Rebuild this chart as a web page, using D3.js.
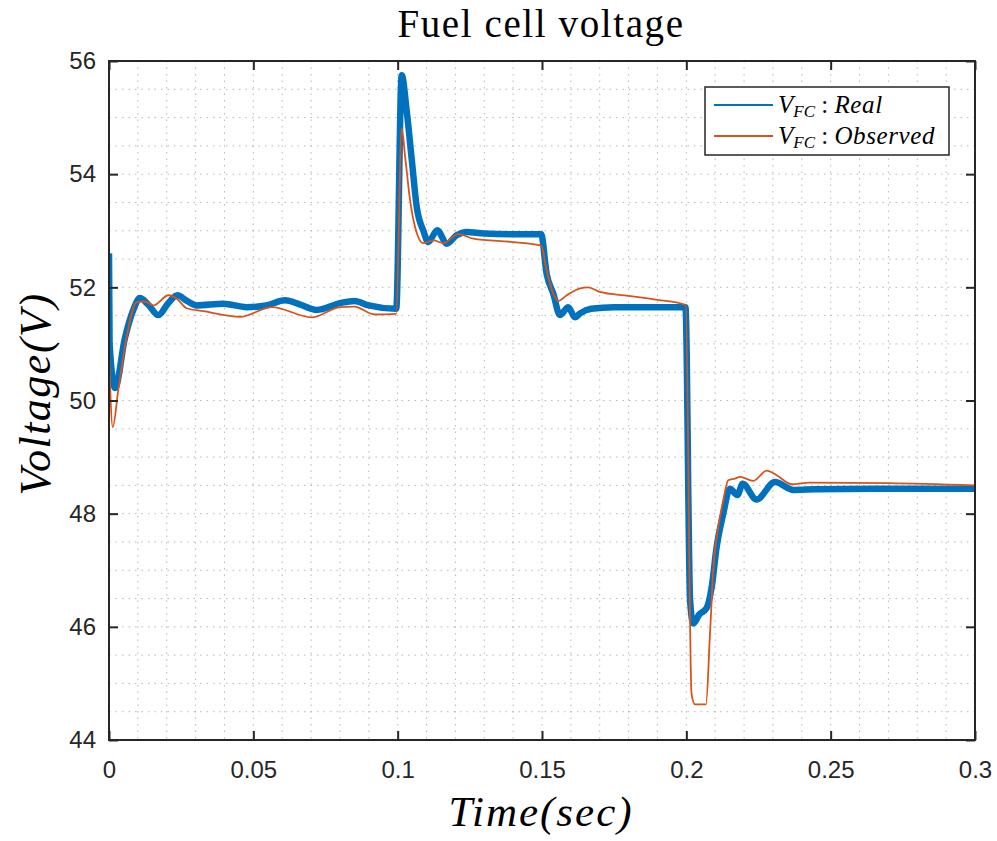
<!DOCTYPE html>
<html>
<head>
<meta charset="utf-8">
<script src="https://cdn.jsdelivr.net/npm/d3@7"></script>
<style>
  html, body { margin: 0; padding: 0; background: #fff; }
  svg { display: block; }
</style>
</head>
<body>
<div id="chart"></div>
<script>
// values
const realTime = [0, 0.0002, 0.0021, 0.0055, 0.0084, 0.0107, 0.0135, 0.0171, 0.0205, 0.0237, 0.0270, 0.0304,
  0.0396, 0.0477, 0.0545, 0.061, 0.066, 0.072, 0.080, 0.085, 0.090, 0.0995,
  0.1014, 0.1031, 0.1049, 0.1066, 0.1089, 0.1106, 0.1137, 0.1170, 0.1204, 0.1239, 0.130, 0.140, 0.1497,
  0.1516, 0.1539, 0.1562, 0.1591, 0.1614, 0.1632, 0.167, 0.175, 0.185, 0.1997,
  0.2013, 0.2024, 0.2045, 0.207, 0.2088, 0.2105, 0.2128, 0.2151, 0.2177, 0.2195, 0.2243, 0.2307, 0.2371,
  0.245, 0.27, 0.3];
const realVolt = [52.6, 51.0, 50.22, 51.1, 51.6, 51.81, 51.7, 51.51, 51.72, 51.86, 51.76, 51.68,
  51.71, 51.65, 51.68, 51.77, 51.7, 51.6, 51.72, 51.76, 51.68, 51.62,
  55.75, 55.13, 54.25, 53.42, 53.0, 52.8, 53.01, 52.77, 52.92, 52.98, 52.95, 52.94, 52.94,
  52.24, 51.89, 51.51, 51.65, 51.47, 51.54, 51.62, 51.65, 51.65, 51.65,
  46.47, 46.06, 46.22, 46.33, 46.71, 47.41, 48.0, 48.44, 48.33, 48.53, 48.25, 48.56, 48.42,
  48.43, 48.44, 48.44];

const obsTime = [0, 0.0013, 0.0032, 0.0061, 0.0096, 0.0125, 0.0154, 0.0206, 0.0235, 0.0269, 0.0327,
  0.0454, 0.0564, 0.0702, 0.080, 0.085, 0.092, 0.0995,
  0.1014, 0.1026, 0.1043, 0.1060, 0.1089, 0.1124, 0.1158, 0.1210, 0.1262, 0.1400, 0.1497,
  0.1516, 0.1539, 0.1557, 0.1586, 0.1632, 0.1660, 0.1700, 0.1800, 0.1900, 0.1998,
  0.2018, 0.2030, 0.2068, 0.2082, 0.2094, 0.2111, 0.2128, 0.2145, 0.2168, 0.2186, 0.2232, 0.2278,
  0.2313, 0.2365, 0.2428, 0.27, 0.3];
const obsVolt = [50.83, 49.53, 50.18, 51.12, 51.74, 51.75, 51.68, 51.86, 51.80, 51.63, 51.58,
  51.48, 51.65, 51.47, 51.65, 51.66, 51.52, 51.53,
  54.81, 54.30, 53.54, 53.07, 52.78, 52.83, 52.78, 52.94, 52.86, 52.80, 52.74,
  52.30, 51.89, 51.76, 51.86, 51.98, 52.0, 51.92, 51.85, 51.78, 51.69,
  44.82, 44.63, 44.63, 45.88, 47.06, 47.77, 48.24, 48.59, 48.62, 48.65, 48.58, 48.76,
  48.68, 48.52, 48.55, 48.54, 48.50];

const xTicks = [0, 0.05, 0.1, 0.15, 0.2, 0.25, 0.3];
const yTicks = [44, 46, 48, 50, 52, 54, 56];

const realColor = "#0072BD";
const obsColor = "#D95319";
const axisColor = "#262626";

const margin = {top: 61, right: 22, bottom: 101, left: 109};
const size = {width: 997, height: 841};
const width = size.width - margin.left - margin.right;
const height = size.height - margin.top - margin.bottom;

const svgRoot = d3.select("#chart").append("svg")
  .attr("width", size.width)
  .attr("height", size.height);

const svg = svgRoot.append("g")
  .attr("transform", "translate(" + margin.left + "," + margin.top + ")");

const xScale = d3.scaleLinear().domain([0, 0.3]).range([0, width]);
const yScale = d3.scaleLinear().domain([44, 56]).range([height, 0]);

// grid (major + minor, all dotted)
const xGrid = d3.range(0, 31).map(i => i * 0.01);
const yGrid = d3.range(0, 25).map(i => 44 + i * 0.5);

const gridG = svg.append("g").attr("class", "gridG");
gridG.selectAll("line.vGrid")
  .data(xGrid.slice(1, -1))
  .join("line")
  .attr("class", "vGrid")
  .attr("x1", d => xScale(d)).attr("x2", d => xScale(d))
  .attr("y1", 0).attr("y2", height)
  .attr("stroke", "#b8b8b8").attr("stroke-width", 1)
  .attr("stroke-dasharray", "1.5,5");
gridG.selectAll("line.hGrid")
  .data(yGrid.slice(1, -1))
  .join("line")
  .attr("class", "hGrid")
  .attr("x1", 0).attr("x2", width)
  .attr("y1", d => yScale(d)).attr("y2", d => yScale(d))
  .attr("stroke", "#b8b8b8").attr("stroke-width", 1)
  .attr("stroke-dasharray", "1.5,5");

// lines
svg.append("clipPath").attr("id", "plotClip")
  .append("rect").attr("width", width).attr("height", height);

const line = d3.line()
  .x(d => xScale(d[0]))
  .y(d => yScale(d[1]))
  .curve(d3.curveMonotoneX);

const realData = realTime.map((t, i) => [t, realVolt[i]]);
const obsData = obsTime.map((t, i) => [t, obsVolt[i]]);

const linesG = svg.append("g").attr("clip-path", "url(#plotClip)");
linesG.append("path")
  .datum(realData)
  .attr("d", line)
  .attr("fill", "none")
  .attr("stroke", realColor)
  .attr("stroke-width", 6.5)
  .attr("stroke-linejoin", "round");
linesG.append("path")
  .datum(obsData)
  .attr("d", line)
  .attr("fill", "none")
  .attr("stroke", obsColor)
  .attr("stroke-width", 1.8)
  .attr("stroke-linejoin", "round");

// axes with inward ticks on all four sides
const tickLen = 9;
const styleAxis = g => {
  g.select(".domain").remove();
  g.selectAll(".tick line").attr("stroke", axisColor).attr("stroke-width", 2);
  g.selectAll(".tick text")
    .attr("fill", axisColor)
    .style("font-family", "'Liberation Sans', Arial, Helvetica, sans-serif")
    .style("font-size", "24px");
};

svg.append("g")
  .attr("transform", "translate(0," + height + ")")
  .call(d3.axisBottom(xScale).tickValues(xTicks).tickFormat(d3.format("")).tickSizeInner(-tickLen).tickSizeOuter(0).tickPadding(21))
  .call(styleAxis);
svg.append("g")
  .call(d3.axisTop(xScale).tickValues(xTicks).tickFormat("").tickSizeInner(-tickLen).tickSizeOuter(0))
  .call(styleAxis);
svg.append("g")
  .call(d3.axisLeft(yScale).tickValues(yTicks).tickFormat(d3.format("d")).tickSizeInner(-tickLen).tickSizeOuter(0).tickPadding(13))
  .call(styleAxis);
svg.append("g")
  .attr("transform", "translate(" + width + ",0)")
  .call(d3.axisRight(yScale).tickValues(yTicks).tickFormat("").tickSizeInner(-tickLen).tickSizeOuter(0))
  .call(styleAxis);

svg.append("rect")
  .attr("width", width).attr("height", height)
  .attr("fill", "none")
  .attr("stroke", axisColor)
  .attr("stroke-width", 2);

const serif = "'Liberation Serif', 'Times New Roman', 'DejaVu Serif', serif";

svgRoot.append("text")
  .attr("x", 541).attr("y", 37)
  .attr("text-anchor", "middle")
  .attr("fill", "#000")
  .style("font-family", serif)
  .style("font-size", "39px")
  .style("letter-spacing", "1.6px")
  .text("Fuel cell voltage");

svgRoot.append("text")
  .attr("x", 541).attr("y", 826)
  .attr("text-anchor", "middle")
  .attr("fill", "#000")
  .style("font-family", serif)
  .style("font-style", "italic")
  .style("font-size", "43px")
  .style("letter-spacing", "2px")
  .text("Time(sec)");

svgRoot.append("text")
  .attr("transform", "translate(50,394) rotate(-90)")
  .attr("text-anchor", "middle")
  .attr("fill", "#000")
  .style("font-family", serif)
  .style("font-style", "italic")
  .style("font-size", "44px")
  .style("letter-spacing", "1.5px")
  .text("Voltage(V)");

// legend
const legendItems = [
  {name: "Real", color: realColor},
  {name: "Observed", color: obsColor}
];
const legendG = svgRoot.append("g").attr("transform", "translate(705,87)");
legendG.append("rect")
  .attr("width", 244).attr("height", 68)
  .attr("fill", "#fff")
  .attr("stroke", axisColor)
  .attr("stroke-width", 1.5);
const itemG = legendG.selectAll(".legendItem")
  .data(legendItems)
  .join("g")
  .attr("class", "legendItem")
  .attr("transform", (d, i) => "translate(0," + (18 + i * 31) + ")");
itemG.append("line")
  .attr("x1", 9).attr("x2", 68)
  .attr("stroke", d => d.color)
  .attr("stroke-width", 2);
const legText = itemG.append("text")
  .attr("x", 73).attr("y", 8)
  .attr("fill", "#000")
  .style("font-family", serif)
  .style("font-size", "25px");
legText.append("tspan").style("font-style", "italic").text("V");
legText.append("tspan").style("font-style", "italic").style("font-size", "17px").attr("dy", 4).text("FC");
legText.append("tspan").attr("dy", -4).text(" : ");
legText.append("tspan").style("font-style", "italic").style("letter-spacing", "0.6px").text(d => d.name);
</script>
</body>
</html>
